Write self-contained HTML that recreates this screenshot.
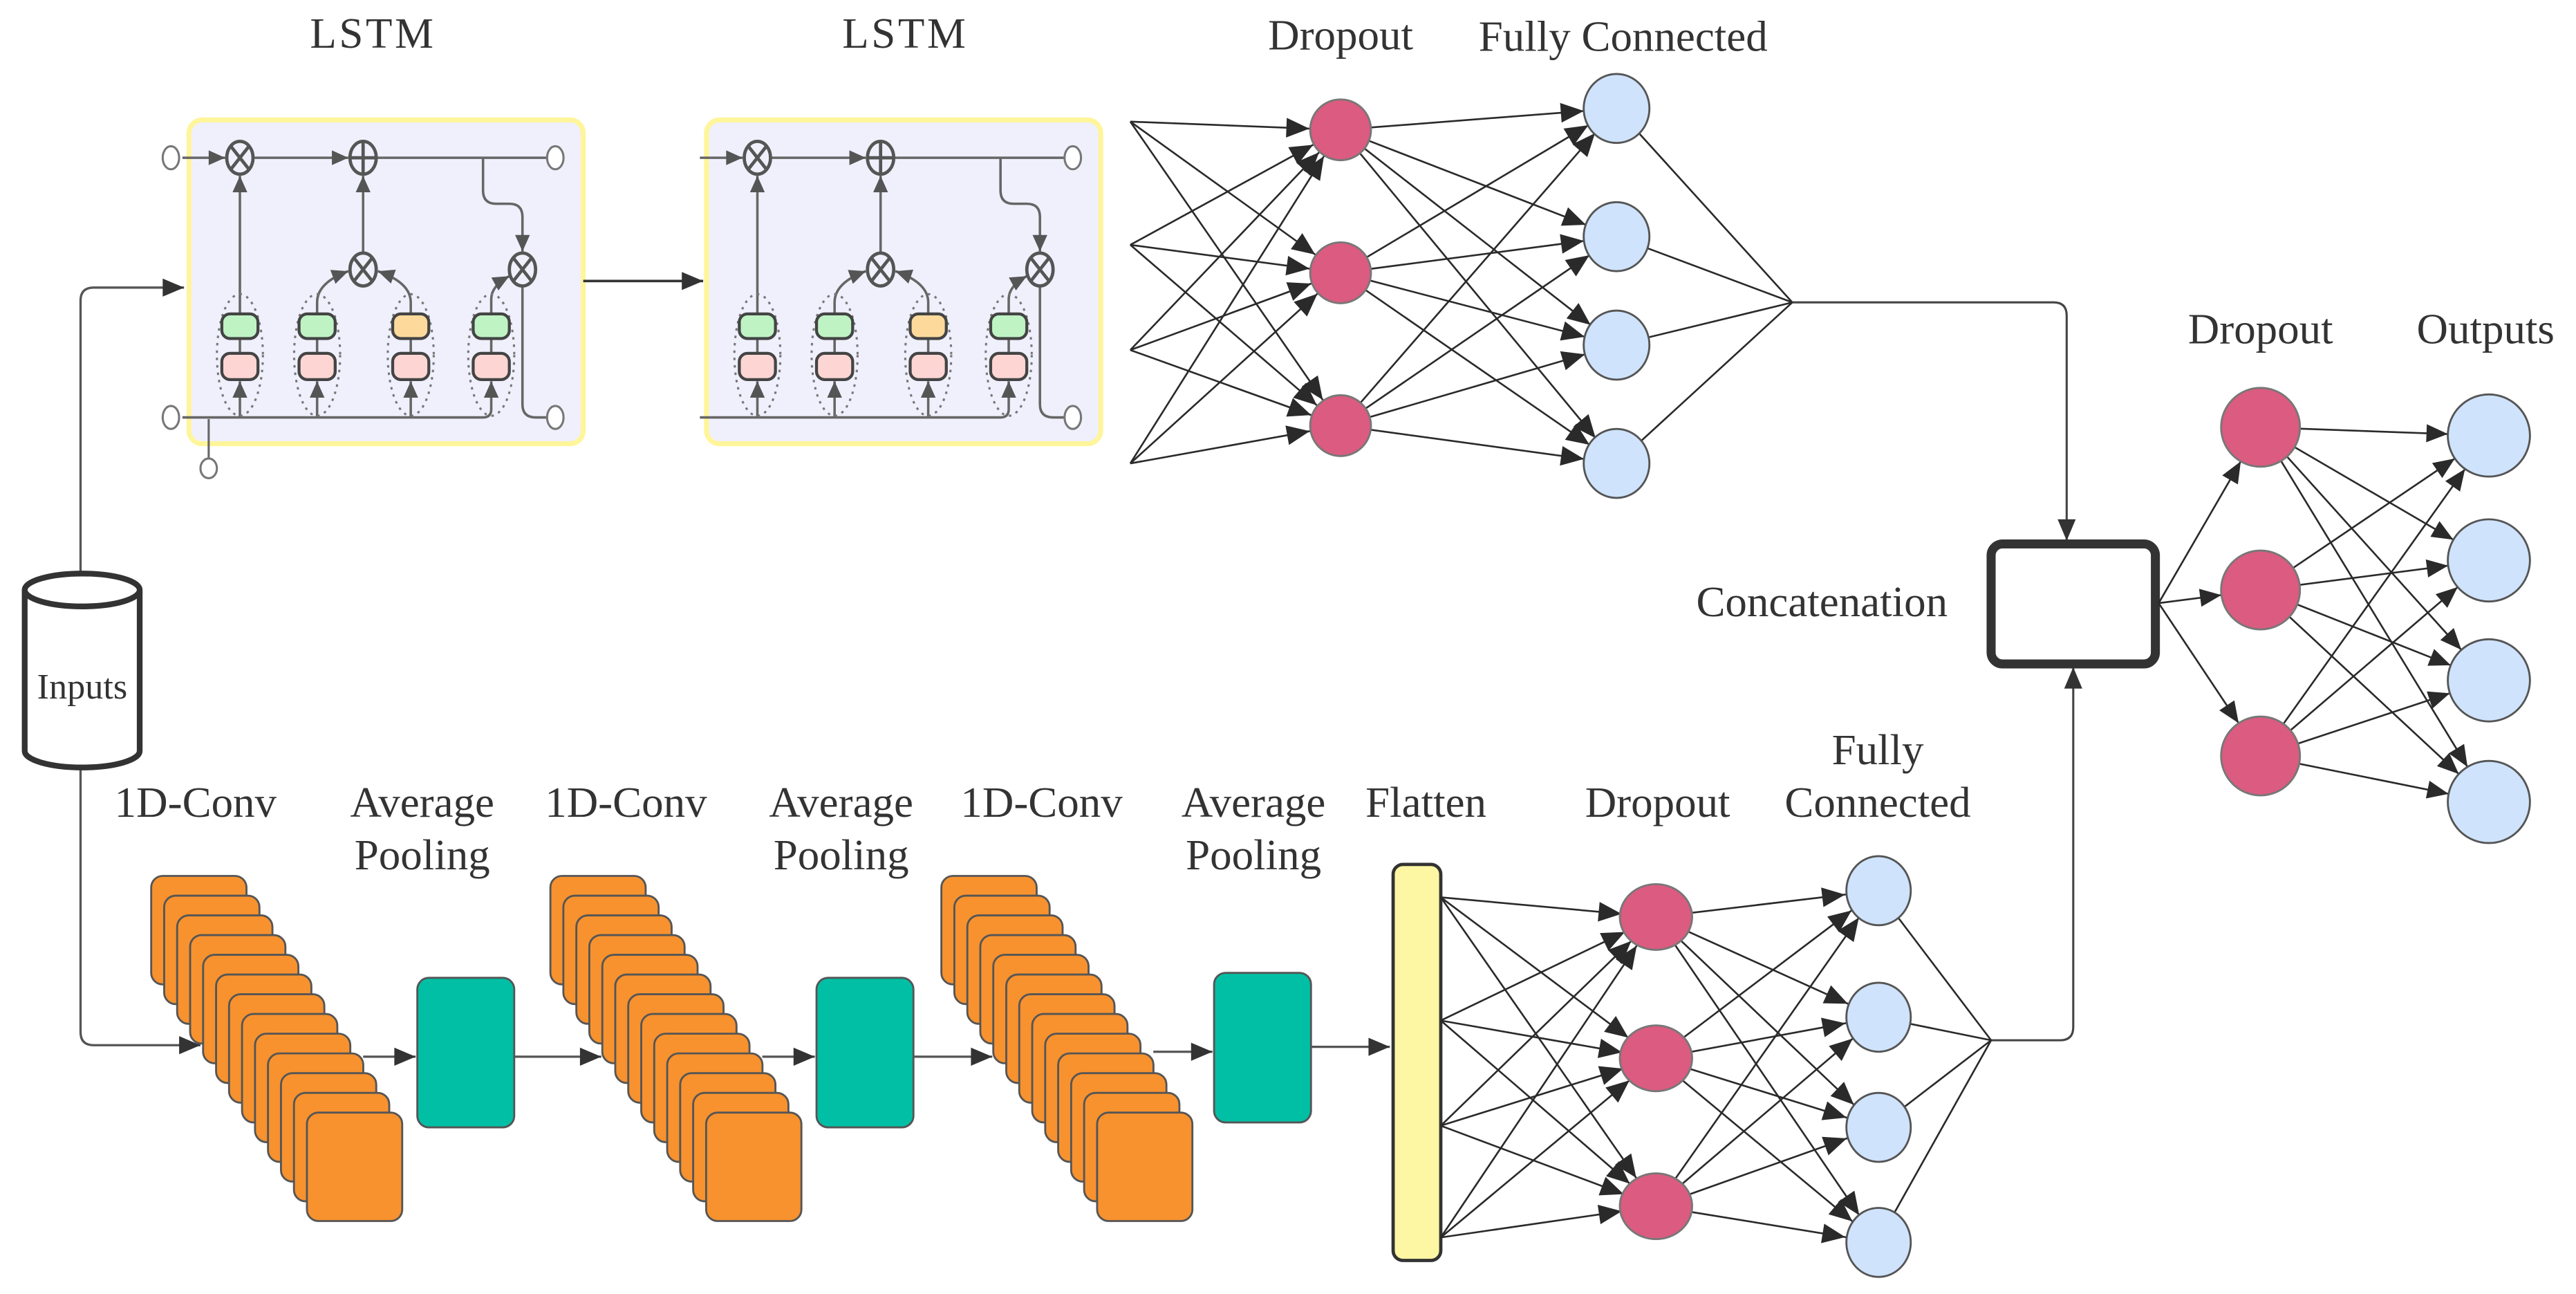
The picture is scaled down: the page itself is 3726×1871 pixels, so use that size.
<!DOCTYPE html>
<html><head><meta charset="utf-8"><style>html,body{margin:0;padding:0;background:#fff}svg{display:block}</style></head>
<body>
<svg width="3726" height="1871" viewBox="0 0 1568 787.4" xmlns="http://www.w3.org/2000/svg" font-family="'Liberation Serif', serif">
<defs>
<marker id="ar" markerUnits="userSpaceOnUse" orient="auto" overflow="visible" refX="0" refY="0"><path d="M0,0 L-13,-5.5 L-13,5.5 Z" fill="#333"/></marker>
<marker id="ag" markerUnits="userSpaceOnUse" orient="auto" overflow="visible" refX="0" refY="0"><path d="M0,0 L-10,-4.5 L-10,4.5 Z" fill="#555"/></marker>
<marker id="m19" markerUnits="userSpaceOnUse" orient="auto" overflow="visible"><path d="M-19,0 L-33,-6 L-33,6 Z" fill="#2a2a2a"/></marker>
<marker id="m20" markerUnits="userSpaceOnUse" orient="auto" overflow="visible"><path d="M-20,0 L-34,-6 L-34,6 Z" fill="#2a2a2a"/></marker>
<marker id="m21" markerUnits="userSpaceOnUse" orient="auto" overflow="visible"><path d="M-21,0 L-35,-6 L-35,6 Z" fill="#2a2a2a"/></marker>
<marker id="m24" markerUnits="userSpaceOnUse" orient="auto" overflow="visible"><path d="M-24,0 L-37,-5.5 L-37,5.5 Z" fill="#2a2a2a"/></marker>
<marker id="m25" markerUnits="userSpaceOnUse" orient="auto" overflow="visible"><path d="M-25,0 L-38,-5.5 L-38,5.5 Z" fill="#2a2a2a"/></marker>
<g id="cell">
<rect x="115" y="73" width="240" height="197" rx="8" fill="#eff0fc" stroke="#fff59a" stroke-width="3"/>
<g fill="none" stroke="#666" stroke-width="1.5">
<path d="M111,96 H137" marker-end="url(#ag)"/>
<path d="M154,96 H212" marker-end="url(#ag)"/>
<path d="M229,96 H333"/>
<path d="M294,96 V116 Q294,124 302,124 H310 Q318,124 318,132 V153" marker-end="url(#ag)"/>
<path d="M318,174 V246 Q318,254 326,254 H333"/>
<path d="M221,154 V107" marker-end="url(#ag)"/>
<path d="M146,191 V107" marker-end="url(#ag)"/>
<path d="M193,191 V184 Q193,172 212,165" marker-end="url(#ag)"/>
<path d="M250,191 V184 Q250,172 230,165" marker-end="url(#ag)"/>
<path d="M299,191 V182 Q299,174 310,168" marker-end="url(#ag)"/>
<path d="M111,254 H294 Q299,254 299,249 V232" marker-end="url(#ag)"/>
<path d="M146,254 V232" marker-end="url(#ag)"/>
<path d="M193,254 V232" marker-end="url(#ag)"/>
<path d="M250,254 V232" marker-end="url(#ag)"/>
<path d="M146,206 V215 M193,206 V215 M250,206 V215 M299,206 V215"/>
</g>
<g fill="none" stroke="#777" stroke-width="1.3" stroke-dasharray="1.5 3">
<ellipse cx="146" cy="216" rx="14" ry="37"/><ellipse cx="193" cy="216" rx="14" ry="37"/><ellipse cx="250" cy="216" rx="14" ry="37"/><ellipse cx="299" cy="216" rx="14" ry="37"/>
</g>
<g stroke="#444" stroke-width="1.8">
<rect x="135" y="191" width="22" height="15" rx="5" fill="#bff3c4"/><rect x="135" y="215" width="22" height="16" rx="5" fill="#fdd6d4"/>
<rect x="182" y="191" width="22" height="15" rx="5" fill="#bff3c4"/><rect x="182" y="215" width="22" height="16" rx="5" fill="#fdd6d4"/>
<rect x="239" y="191" width="22" height="15" rx="5" fill="#fdda9c"/><rect x="239" y="215" width="22" height="16" rx="5" fill="#fdd6d4"/>
<rect x="288" y="191" width="22" height="15" rx="5" fill="#bff3c4"/><rect x="288" y="215" width="22" height="16" rx="5" fill="#fdd6d4"/>
</g>
<g fill="#eff0fc" stroke="#555" stroke-width="2">
<ellipse cx="146" cy="96" rx="8" ry="10"/><path d="M140.4,88.9 L151.6,103.1 M151.6,88.9 L140.4,103.1"/>
<ellipse cx="221" cy="96" rx="8" ry="10"/><path d="M213,96 H229 M221,86 V106"/>
<ellipse cx="221" cy="164" rx="8" ry="10"/><path d="M215.4,156.9 L226.6,171.1 M226.6,156.9 L215.4,171.1"/>
<ellipse cx="318" cy="164" rx="8" ry="10"/><path d="M312.4,156.9 L323.6,171.1 M323.6,156.9 L312.4,171.1"/>
</g>
<g fill="#fff" stroke="#777" stroke-width="1.3">
<ellipse cx="338" cy="96" rx="5" ry="7"/><ellipse cx="338" cy="254" rx="5" ry="7"/>
</g>
</g>
</defs>

<use href="#cell"/>
<use href="#cell" transform="translate(315,0)"/>
<g fill="none" stroke="#666" stroke-width="1.3">
<path d="M127,255 V279"/>
</g>
<g fill="#fff" stroke="#777" stroke-width="1.3">
<ellipse cx="104" cy="96" rx="5" ry="7"/><ellipse cx="104" cy="254" rx="5" ry="7"/><ellipse cx="127" cy="285" rx="5" ry="6"/>
</g>
<path d="M355,171 H428" fill="none" stroke="#333" stroke-width="1.5" marker-end="url(#ar)"/>

<g fill="none" stroke="#555" stroke-width="1.4">
<path d="M49,348 V183 Q49,175 57,175 H112" marker-end="url(#ar)"/>
<path d="M49,467 V628 Q49,636 57,636 H122" marker-end="url(#ar)"/>
</g>
<path d="M15,359 V457 A35,10 0 0 0 85,457 V359" fill="#fff" stroke="#333" stroke-width="3.5"/>
<ellipse cx="50" cy="359" rx="35" ry="10" fill="#fff" stroke="#333" stroke-width="3.5"/>
<text x="50" y="425" font-size="22" text-anchor="middle" fill="#333">Inputs</text>

<g font-size="26.5" fill="#333" text-anchor="middle">
<text x="227" y="29" letter-spacing="1.5">LSTM</text>
<text x="551" y="29" letter-spacing="1.5">LSTM</text>
<text x="816" y="30">Dropout</text>
<text x="988" y="31">Fully Connected</text>
<text x="1376" y="209">Dropout</text>
<text x="1513" y="209">Outputs</text>
<text x="1109" y="375">Concatenation</text>
<text x="119" y="497">1D-Conv</text>
<text x="257" y="497">Average</text><text x="257" y="529">Pooling</text>
<text x="381" y="497">1D-Conv</text>
<text x="512" y="497">Average</text><text x="512" y="529">Pooling</text>
<text x="634" y="497">1D-Conv</text>
<text x="763" y="497">Average</text><text x="763" y="529">Pooling</text>
<text x="868" y="497">Flatten</text>
<text x="1009" y="497">Dropout</text>
<text x="1143" y="465">Fully</text><text x="1143" y="497">Connected</text>
</g>

<g stroke="#2a2a2a" stroke-width="1.1" fill="none">
<path d="M688,74 L816,79" marker-end="url(#m19)"/><path d="M688,74 L816,166" marker-end="url(#m19)"/><path d="M688,74 L816,259" marker-end="url(#m19)"/>
<path d="M688,149 L816,79" marker-end="url(#m19)"/><path d="M688,149 L816,166" marker-end="url(#m19)"/><path d="M688,149 L816,259" marker-end="url(#m19)"/>
<path d="M688,213 L816,79" marker-end="url(#m19)"/><path d="M688,213 L816,166" marker-end="url(#m19)"/><path d="M688,213 L816,259" marker-end="url(#m19)"/>
<path d="M688,282 L816,79" marker-end="url(#m19)"/><path d="M688,282 L816,166" marker-end="url(#m19)"/><path d="M688,282 L816,259" marker-end="url(#m19)"/>
<path d="M816,79 L984,66" marker-end="url(#m20)"/><path d="M816,79 L984,144" marker-end="url(#m20)"/><path d="M816,79 L984,210" marker-end="url(#m20)"/><path d="M816,79 L984,282" marker-end="url(#m20)"/>
<path d="M816,166 L984,66" marker-end="url(#m20)"/><path d="M816,166 L984,144" marker-end="url(#m20)"/><path d="M816,166 L984,210" marker-end="url(#m20)"/><path d="M816,166 L984,282" marker-end="url(#m20)"/>
<path d="M816,259 L984,66" marker-end="url(#m20)"/><path d="M816,259 L984,144" marker-end="url(#m20)"/><path d="M816,259 L984,210" marker-end="url(#m20)"/><path d="M816,259 L984,282" marker-end="url(#m20)"/>
<path d="M984,66 L1091,184 M984,144 L1091,184 M984,210 L1091,184 M984,282 L1091,184"/>
</g>
<path d="M1091,184 H1250 Q1258,184 1258,192 V329" fill="none" stroke="#444" stroke-width="1.3" marker-end="url(#ar)"/>
<g fill="#dc5b80" stroke="#777" stroke-width="1.2">
<circle cx="816" cy="79" r="18.5"/><circle cx="816" cy="166" r="18.5"/><circle cx="816" cy="259" r="18.5"/>
</g>
<g fill="#cfe3fc" stroke="#555" stroke-width="1.2">
<ellipse cx="984" cy="66" rx="20" ry="21"/><ellipse cx="984" cy="144" rx="20" ry="21"/><ellipse cx="984" cy="210" rx="20" ry="21"/><ellipse cx="984" cy="282" rx="20" ry="21"/>
</g>

<path d="M1212,633 H1254 Q1262,633 1262,625 V406" fill="none" stroke="#444" stroke-width="1.3" marker-end="url(#ar)"/>
<rect x="1212" y="331" width="100" height="73" rx="7" fill="#fff" stroke="#333" stroke-width="5.5"/>
<g stroke="#2a2a2a" stroke-width="1.1" fill="none">
<path d="M1314,367 L1376,260" marker-end="url(#m24)"/><path d="M1314,367 L1376,359" marker-end="url(#m24)"/><path d="M1314,367 L1376,460" marker-end="url(#m24)"/>
<path d="M1376,260 L1515,265" marker-end="url(#m25)"/><path d="M1376,260 L1515,341" marker-end="url(#m25)"/><path d="M1376,260 L1515,414" marker-end="url(#m25)"/><path d="M1376,260 L1515,488" marker-end="url(#m25)"/>
<path d="M1376,359 L1515,265" marker-end="url(#m25)"/><path d="M1376,359 L1515,341" marker-end="url(#m25)"/><path d="M1376,359 L1515,414" marker-end="url(#m25)"/><path d="M1376,359 L1515,488" marker-end="url(#m25)"/>
<path d="M1376,460 L1515,265" marker-end="url(#m25)"/><path d="M1376,460 L1515,341" marker-end="url(#m25)"/><path d="M1376,460 L1515,414" marker-end="url(#m25)"/><path d="M1376,460 L1515,488" marker-end="url(#m25)"/>
</g>
<g fill="#dc5b80" stroke="#777" stroke-width="1.2">
<circle cx="1376" cy="260" r="24"/><circle cx="1376" cy="359" r="24"/><circle cx="1376" cy="460" r="24"/>
</g>
<g fill="#cfe3fc" stroke="#555" stroke-width="1.2">
<circle cx="1515" cy="265" r="25"/><circle cx="1515" cy="341" r="25"/><circle cx="1515" cy="414" r="25"/><circle cx="1515" cy="488" r="25"/>
</g>

<g id="stack" fill="#f7922f" stroke="#555" stroke-width="1.2">
<rect x="92" y="533" width="58" height="66" rx="7"/>
<rect x="99.9" y="545" width="58" height="66" rx="7"/>
<rect x="107.8" y="557" width="58" height="66" rx="7"/>
<rect x="115.7" y="569" width="58" height="66" rx="7"/>
<rect x="123.6" y="581" width="58" height="66" rx="7"/>
<rect x="131.5" y="593" width="58" height="66" rx="7"/>
<rect x="139.4" y="605" width="58" height="66" rx="7"/>
<rect x="147.3" y="617" width="58" height="66" rx="7"/>
<rect x="155.2" y="629" width="58" height="66" rx="7"/>
<rect x="163.1" y="641" width="58" height="66" rx="7"/>
<rect x="171" y="653" width="58" height="66" rx="7"/>
<rect x="178.9" y="665" width="58" height="66" rx="7"/>
<rect x="186.8" y="677" width="58" height="66" rx="7"/>
</g>
<use href="#stack" transform="translate(243,0)"/>
<use href="#stack" transform="translate(481,0)"/>
<g fill="#00bfa5" stroke="#555" stroke-width="1.2">
<rect x="254" y="595" width="59" height="91" rx="7"/>
<rect x="497" y="595" width="59" height="91" rx="7"/>
<rect x="739" y="592" width="59" height="91" rx="7"/>
</g>
<g fill="none" stroke="#555" stroke-width="1.4">
<path d="M221,643 H253" marker-end="url(#ar)"/>
<path d="M313,643 H366" marker-end="url(#ar)"/>
<path d="M464,643 H496" marker-end="url(#ar)"/>
<path d="M556,643 H604" marker-end="url(#ar)"/>
<path d="M702,640 H738" marker-end="url(#ar)"/>
<path d="M798,637 H846" marker-end="url(#ar)"/>
</g>

<rect x="848" y="526" width="29" height="241" rx="6" fill="#fdf6a3" stroke="#333" stroke-width="2"/>
<g stroke="#2a2a2a" stroke-width="1.1" fill="none">
<path d="M877,546 L1008,558" marker-end="url(#m21)"/><path d="M877,546 L1008,644" marker-end="url(#m21)"/><path d="M877,546 L1008,734" marker-end="url(#m21)"/>
<path d="M877,621 L1008,558" marker-end="url(#m21)"/><path d="M877,621 L1008,644" marker-end="url(#m21)"/><path d="M877,621 L1008,734" marker-end="url(#m21)"/>
<path d="M877,685 L1008,558" marker-end="url(#m21)"/><path d="M877,685 L1008,644" marker-end="url(#m21)"/><path d="M877,685 L1008,734" marker-end="url(#m21)"/>
<path d="M877,753 L1008,558" marker-end="url(#m21)"/><path d="M877,753 L1008,644" marker-end="url(#m21)"/><path d="M877,753 L1008,734" marker-end="url(#m21)"/>
<path d="M1008,558 L1143,542" marker-end="url(#m20)"/><path d="M1008,558 L1143,619" marker-end="url(#m20)"/><path d="M1008,558 L1143,686" marker-end="url(#m20)"/><path d="M1008,558 L1143,756" marker-end="url(#m20)"/>
<path d="M1008,644 L1143,542" marker-end="url(#m20)"/><path d="M1008,644 L1143,619" marker-end="url(#m20)"/><path d="M1008,644 L1143,686" marker-end="url(#m20)"/><path d="M1008,644 L1143,756" marker-end="url(#m20)"/>
<path d="M1008,734 L1143,542" marker-end="url(#m20)"/><path d="M1008,734 L1143,619" marker-end="url(#m20)"/><path d="M1008,734 L1143,686" marker-end="url(#m20)"/><path d="M1008,734 L1143,756" marker-end="url(#m20)"/>
<path d="M1143,542 L1212,633 M1143,619 L1212,633 M1143,686 L1212,633 M1143,756 L1212,633"/>
</g>
<g fill="#dc5b80" stroke="#777" stroke-width="1.2">
<ellipse cx="1008" cy="558" rx="22" ry="20"/><ellipse cx="1008" cy="644" rx="22" ry="20"/><ellipse cx="1008" cy="734" rx="22" ry="20"/>
</g>
<g fill="#cfe3fc" stroke="#555" stroke-width="1.2">
<ellipse cx="1143.5" cy="542" rx="19.6" ry="21"/><ellipse cx="1143.5" cy="619" rx="19.6" ry="21"/><ellipse cx="1143.5" cy="686" rx="19.6" ry="21"/><ellipse cx="1143.5" cy="756" rx="19.6" ry="21"/>
</g>
</svg>
</body></html>
